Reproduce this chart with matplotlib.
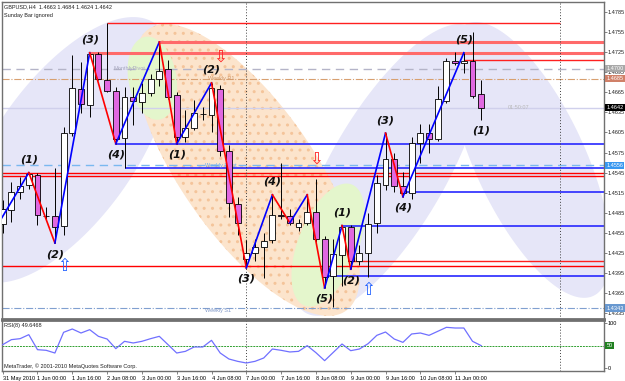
import numpy as np
import matplotlib
matplotlib.use("Agg")
import matplotlib.pyplot as plt
from matplotlib.patches import Polygon

# GBPUSD H4, 31 May 2010 08:00 .. 11 Jun 2010 12:00 (Sunday bar ignored)
opens = [1.4469, 1.4489, 1.4516, 1.4527, 1.4542, 1.4481, 1.4480, 1.4466, 1.4604, 1.4670,
         1.4646, 1.4722, 1.4683, 1.4667, 1.4597, 1.4658, 1.4651, 1.4664, 1.4685, 1.4700,
         1.4661, 1.4598, 1.4612, 1.4633, 1.4631, 1.4670, 1.4577, 1.4498, 1.4416, 1.4425,
         1.4434, 1.4445, 1.4482, 1.4480, 1.4464, 1.4470, 1.4486, 1.4446, 1.4391, 1.4422,
         1.4464, 1.4413, 1.4425, 1.4470, 1.4527, 1.4566, 1.4525, 1.4515, 1.4589, 1.4604,
         1.4595, 1.4652, 1.4712, 1.4709, 1.4712, 1.4663]
highs = [1.4504, 1.4531, 1.4539, 1.4545, 1.4545, 1.4494, 1.4552, 1.4613, 1.4721, 1.4710,
         1.4724, 1.4725, 1.4768, 1.4673, 1.4673, 1.4673, 1.4679, 1.4692, 1.4740, 1.4713,
         1.4665, 1.4639, 1.4654, 1.4643, 1.4679, 1.4676, 1.4586, 1.4509, 1.4445, 1.4446,
         1.4455, 1.4512, 1.4560, 1.4491, 1.4476, 1.4512, 1.4536, 1.4450, 1.4446, 1.4466,
         1.4467, 1.4437, 1.4485, 1.4542, 1.4604, 1.4574, 1.4546, 1.4598, 1.4618, 1.4618,
         1.4674, 1.4716, 1.4725, 1.4724, 1.4755, 1.4684]
lows = [1.4455, 1.4471, 1.4506, 1.4521, 1.4467, 1.4474, 1.4440, 1.4452, 1.4600, 1.4634,
        1.4628, 1.4683, 1.4665, 1.4588, 1.4552, 1.4616, 1.4634, 1.4660, 1.4674, 1.4655,
        1.4588, 1.4591, 1.4609, 1.4624, 1.4606, 1.4570, 1.4479, 1.4452, 1.4403, 1.4413,
        1.4388, 1.4440, 1.4476, 1.4467, 1.4458, 1.4467, 1.4442, 1.4373, 1.4345, 1.4376,
        1.4401, 1.4407, 1.4389, 1.4455, 1.4519, 1.4516, 1.4509, 1.4506, 1.4560, 1.4574,
        1.4592, 1.4649, 1.4705, 1.4694, 1.4657, 1.4624]
closes = [1.4491, 1.4516, 1.4525, 1.4543, 1.4482, 1.4480, 1.4464, 1.4604, 1.4671, 1.4648,
          1.4722, 1.4685, 1.4667, 1.4595, 1.4658, 1.4652, 1.4664, 1.4685, 1.4697, 1.4658,
          1.4598, 1.4612, 1.4634, 1.4632, 1.4671, 1.4577, 1.4500, 1.4470, 1.4425, 1.4434,
          1.4443, 1.4482, 1.4481, 1.4470, 1.4470, 1.4486, 1.4446, 1.4389, 1.4424, 1.4464,
          1.4413, 1.4425, 1.4469, 1.4530, 1.4566, 1.4525, 1.4515, 1.4589, 1.4604, 1.4595,
          1.4655, 1.4712, 1.4709, 1.4712, 1.4660, 1.4642]
rsi = [51.9, 63.0, 65.2, 74.1, 40.7, 39.3, 33.3, 79.3, 86.7, 77.8,
       85.2, 70.4, 64.4, 43.0, 59.3, 55.6, 59.3, 65.2, 70.4, 51.9,
       33.3, 37.0, 46.7, 46.7, 61.5, 33.3, 20.0, 14.8, 11.1, 14.8,
       22.2, 42.2, 39.3, 35.6, 37.0, 49.6, 34.1, 16.3, 34.8, 53.3,
       38.5, 42.2, 54.1, 72.6, 80.0, 64.4, 57.0, 75.6, 77.8, 72.6,
       81.5, 90.4, 88.9, 88.9, 59.3, 49.6468]

# zigzag swing points (bar index, price)
zz_bars = [-1, 3, 6, 10, 13, 18, 20, 24, 28, 31, 33, 35, 37, 39, 40, 44, 46, 53]
zz_prices = [1.4458, 1.4545, 1.4440, 1.4724, 1.4588, 1.4740, 1.4588, 1.4679, 1.4403,
             1.4512, 1.4470, 1.4512, 1.4373, 1.4466, 1.4401, 1.4604, 1.4509, 1.4724]

# wave counts: bar, text, +1 above the high / -1 below the low
wave_bars = [3, 6, 10, 13, 20, 24, 28, 31, 37, 39, 40, 44, 46, 53, 55]
wave_text = ["(1)", "(2)", "(3)", "(4)", "(1)", "(2)", "(3)", "(4)", "(5)",
             "(1)", "(2)", "(3)", "(4)", "(5)", "(1)"]
wave_side = [1, -1, 1, -1, -1, 1, -1, 1, -1, 1, -1, 1, -1, 1, -1]

# signal arrows
sell_bars = [25, 36]
sell_prices = [1.4718, 1.4566]
buy_bars = [7, 42]
buy_prices = [1.4406, 1.4370]

# support / resistance lines: price, first bar
red_lines = [1.4545, 1.4540, 1.4405]
red_starts = [-1, -1, -1]
red_thick = [1.4740, 1.4724]
red_thick_starts = [18, 10]
red_short = [1.4768, 1.4713, 1.4413]
red_short_starts = [12, 53, 40]
blue_lines = [1.4588, 1.4552, 1.4516, 1.4466, 1.4391]
blue_starts = [13, 14, 46, 39, 37]

pivots = {"MonthlyPivot": 1.4700, "Weekly R1": 1.4685,
          "Weekly Pivot": 1.4556, "Weekly S1": 1.4343}
last_price = 1.4642

tick_bars = list(range(0, 56, 4))
tick_text = ["31 May 2010", "1 Jun 00:00", "1 Jun 16:00", "2 Jun 08:00", "3 Jun 00:00",
             "3 Jun 16:00", "4 Jun 08:00", "7 Jun 00:00", "7 Jun 16:00", "8 Jun 08:00",
             "9 Jun 00:00", "9 Jun 16:00", "10 Jun 08:00", "11 Jun 00:00"]

plt.rcParams['font.family'] = ['Liberation Sans', 'DejaVu Sans']
FS = 4

W, H = 625, 381
fig = plt.figure(figsize=(W / 100, H / 100), dpi=100)
ax = fig.add_axes([2 / W, (H - 319) / H, 602 / W, 317 / H])
ax2 = fig.add_axes([2 / W, 10 / H, 602 / W, 51 / H], sharex=ax)

x0, x1 = -0.08, 69.11
y0, y1 = 1.43266, 1.47997
ax.set_xlim(x0, x1)
ax.set_ylim(y0, y1)
px_bar = 602 / (x1 - x0)
px_price = 317 / (y1 - y0)


def blob(cx, cy, a, b, ang, **kw):
    # ellipse drawn in screen pixels, placed by bar / price
    t = np.linspace(0, 2 * np.pi, 200)
    th = np.deg2rad(ang)
    u, v = a * np.cos(t), b * np.sin(t)
    dx = u * np.cos(th) - v * np.sin(th)
    dy = u * np.sin(th) + v * np.cos(th)
    pts = np.column_stack([cx + dx / px_bar, cy + dy / px_price])
    ax.add_patch(Polygon(pts, closed=True, lw=0, zorder=0.5, **kw))


lav = '#e6e6f8'
blob(7.2, 1.4579, 155, 70, 54.7, facecolor=lav)
blob(44.3, 1.4549, 165, 58, 60, facecolor=lav)
blob(60.6, 1.4564, 150, 55, -65, facecolor=lav)
blob(28.1, 1.4549, 172, 66, -55, facecolor='#fce4cc', edgecolor='#f4c49a', hatch='..')
blob(17.2, 1.4686, 42, 24, 100, facecolor='#e4f6cc')
blob(37.4, 1.4437, 65, 30, 68.6, facecolor='#e4f6cc')

# pivot / price lines
ax.axhline(pivots["MonthlyPivot"], color='#b4b4c8', lw=1, ls=(0, (6, 4)), zorder=1)
ax.axhline(pivots["Weekly R1"], color='#d8a070', lw=0.8, ls='-.', zorder=1)
ax.axhline(pivots["Weekly Pivot"], color='#7ab8f0', lw=1, ls=(0, (6, 4)), zorder=1)
ax.axhline(pivots["Weekly S1"], color='#80a0d0', lw=0.8, ls='-.', zorder=1)
ax.axhline(last_price, color='#d0d0ec', lw=1, zorder=1)

for p, s in zip(red_lines, red_starts):
    ax.hlines(p, s, x1, color='#ff0000', lw=1, zorder=1.5)
for p, s in zip(red_thick, red_thick_starts):
    ax.hlines(p, s, x1, color='#ff6a6a', lw=2.2, zorder=1.5)
for p, s, e in zip(red_short, red_short_starts, [64, x1, x1]):
    ax.hlines(p, s, e, color='#ff2020', lw=1, zorder=1.5)
for p, s in zip(blue_lines, blue_starts):
    ax.hlines(p, s, x1, color='#2828ff', lw=1.2, zorder=1.5)

label_kw = dict(fontsize=FS, va='center', zorder=2)
ax.text(12.7, pivots["MonthlyPivot"], "MonthlyPivot", color='#a8a8c0', **label_kw)
ax.text(23.6, pivots["Weekly R1"], "Weekly R1", color='#d09868', **label_kw)
ax.text(23.2, pivots["Weekly Pivot"], "Weekly Pivot", color='#60a8f0', **label_kw)
ax.text(23.2, pivots["Weekly S1"] - 0.0003, "Weekly S1", color='#8098c8', **label_kw)
ax.text(58.0, last_price, "01:50:07", color='#b8b8b8', **label_kw)

# candles
bars = np.arange(len(opens))
o, h, l, c = map(np.array, (opens, highs, lows, closes))
ax.vlines(bars, l, h, color='black', lw=0.7, zorder=3)
up = c >= o
body = np.where(np.abs(c - o) < 0.00005, 0.00005, c - o)
ax.bar(bars[up], body[up], bottom=o[up], width=0.68, color='white',
       edgecolor='black', lw=0.6, zorder=3.5)
ax.bar(bars[~up], body[~up], bottom=o[~up], width=0.68, color='#e068e0',
       edgecolor='black', lw=0.6, zorder=3.5)

# zigzag
for i in range(len(zz_bars) - 1):
    col = '#0000ff' if zz_prices[i + 1] > zz_prices[i] else '#ff0000'
    ax.plot(zz_bars[i:i + 2], zz_prices[i:i + 2], color=col, lw=1.2, zorder=4)

for b, t, s in zip(wave_bars, wave_text, wave_side):
    yv = highs[b] if s > 0 else lows[b]
    ax.annotate(t, (b, yv), xytext=(0, 13 if s > 0 else -11), textcoords='offset pixels',
                ha='center', va='center', fontsize=8, fontweight='bold', style='italic',
                family='DejaVu Sans', color='#101010', zorder=6)

for b, p in zip(sell_bars, sell_prices):
    ax.text(b, p, "\u21e9", color='#ff2020', fontsize=12, ha='center', va='center',
            family='DejaVu Sans', zorder=6)
for b, p in zip(buy_bars, buy_prices):
    ax.text(b, p, "\u21e7", color='#2060ff', fontsize=12, ha='center', va='center',
            family='DejaVu Sans', zorder=6)

for a in (ax, ax2):
    a.axvline(28, color='#404040', lw=0.7, ls=(0, (1, 2)), zorder=2)
    a.axvline(64, color='#404040', lw=0.7, ls=(0, (1, 2)), zorder=2)
    for sp in a.spines.values():
        sp.set_color('#707070')
        sp.set_linewidth(1)

ax.spines['bottom'].set_linewidth(2)
ax2.spines['top'].set_linewidth(2)

ax.text(0.004, 0.986, "GBPUSD,H4  1.4663 1.4684 1.4624 1.4642", transform=ax.transAxes,
        fontsize=FS, va='center', color='#202020')
ax.text(0.004, 0.958, "Sunday Bar ignored", transform=ax.transAxes,
        fontsize=FS, va='center', color='#202020')

# price axis on the right
yt = np.arange(1.4335, 1.4786, 0.003)
ax.yaxis.tick_right()
ax.set_yticks(yt)
ax.set_yticklabels([f"{v:.4f}" for v in yt])
ax.tick_params(axis='y', labelsize=FS, length=2, width=0.6, color='#707070', pad=0.5,
               labelcolor='#202020')
ax.tick_params(axis='x', bottom=False, labelbottom=False)

boxes = [(pivots["MonthlyPivot"], "1.4700", '#a8a8a8', 'white'),
         (pivots["Weekly R1"], "1.4685", '#d08068', 'white'),
         (last_price, "1.4642", 'black', 'white'),
         (pivots["Weekly Pivot"], "1.4556", '#3898f0', 'white'),
         (pivots["Weekly S1"], "1.4343", '#6898d0', 'white')]
for p, t, bg, fg in boxes:
    ax.text(1.004, p, t, transform=ax.get_yaxis_transform(), fontsize=FS, color=fg,
            va='center', ha='left', clip_on=False, zorder=10,
            bbox=dict(boxstyle='square,pad=0.2', fc=bg, ec='none'))

# RSI panel
ax2.set_ylim(-6.7, 106.7)
ax2.plot(bars, rsi, color='#7070ff', lw=0.9, zorder=3)
ax2.axhline(50, color='#30a030', lw=0.7, ls=(0, (2, 1)), zorder=2)
ax2.yaxis.tick_right()
ax2.set_yticks([0, 50, 100])
ax2.set_yticklabels(["0", "", "100"])
ax2.tick_params(axis='y', labelsize=FS, length=2, width=0.6, color='#707070', pad=0.5)
ax2.text(1.004, 50, "50", transform=ax2.get_yaxis_transform(), fontsize=FS, color='white',
         va='center', ha='left', clip_on=False, zorder=10,
         bbox=dict(boxstyle='square,pad=0.2', fc='#208020', ec='none'))
ax2.text(0.004, 0.89, "RSI(8) 49.6468", transform=ax2.transAxes, fontsize=FS,
         va='center', color='#202020')
ax2.text(0.004, 0.1, "MetaTrader, \u00a9 2001-2010 MetaQuotes Software Corp.",
         transform=ax2.transAxes, fontsize=FS, va='center', color='#202020')

ax2.set_xticks(tick_bars)
ax2.set_xticklabels(tick_text)
ax2.tick_params(axis='x', labelsize=FS, length=2.5, width=0.6, color='#707070', pad=0.8)
for lbl in ax2.get_xticklabels():
    lbl.set_horizontalalignment('left')

fig.savefig("out.png", dpi=100)
